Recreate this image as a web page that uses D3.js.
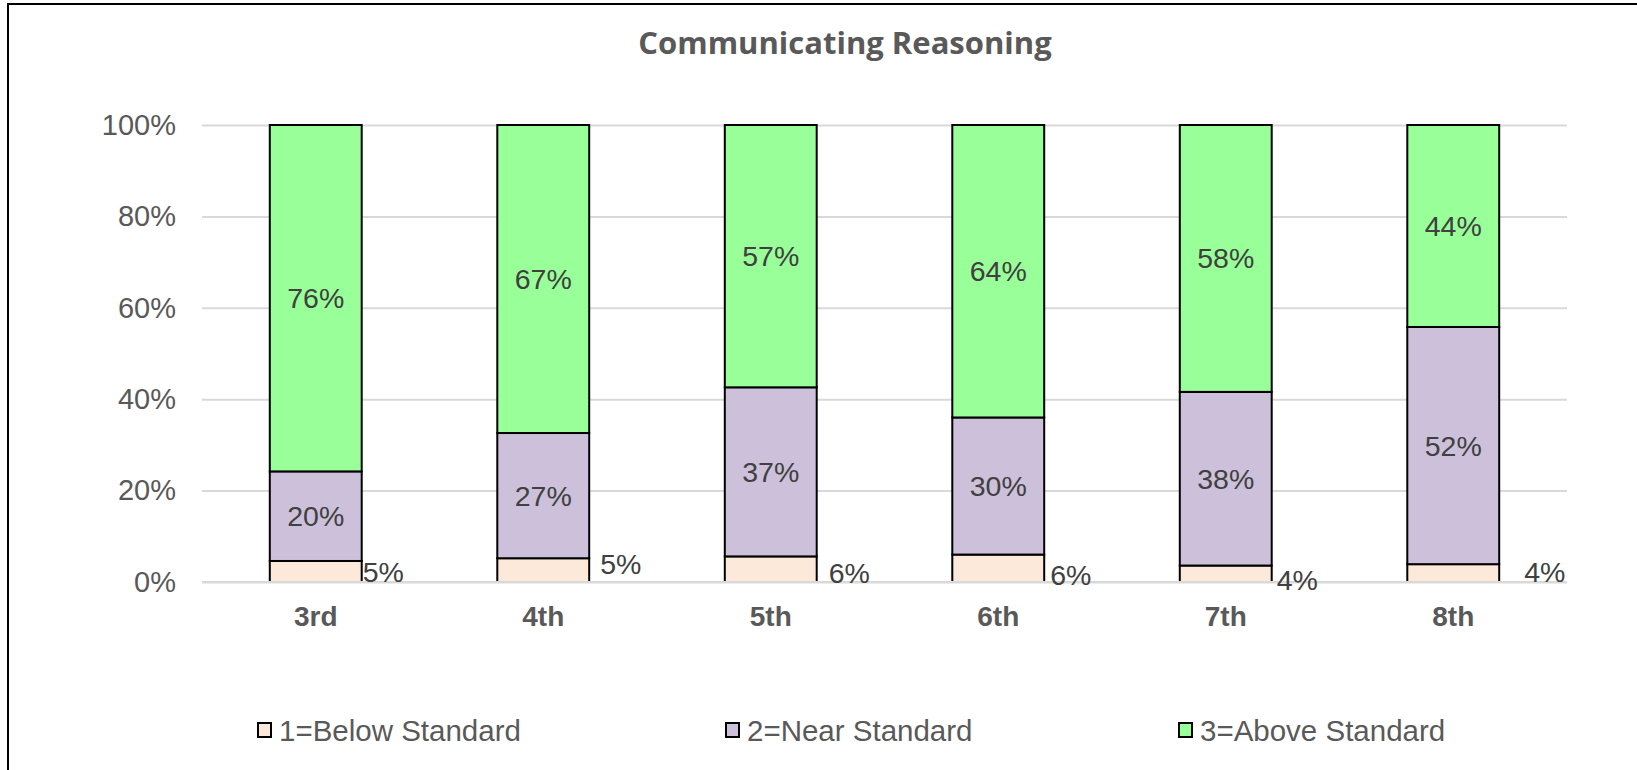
<!DOCTYPE html>
<html>
<head>
<meta charset="utf-8">
<script src="https://cdn.jsdelivr.net/npm/d3@7"></script>
<style>
  html, body { margin: 0; padding: 0; background: #fff; overflow: hidden; }
  svg { display: block; overflow: hidden; }
</style>
</head>
<body>
<div id="chart"></div>
<script>
// grade levels on the x axis
const grades = ['3rd', '4th', '5th', '6th', '7th', '8th'];
// percent of students in each band
const belowStandard = [4.6, 5.2, 5.6, 6.0, 3.6, 3.9];
const nearStandard = [19.6, 27.4, 37.0, 30.0, 38.0, 51.9];
const aboveStandard = [75.8, 67.4, 57.4, 64.0, 58.4, 44.2];
const seriesNames = ['1=Below Standard', '2=Near Standard', '3=Above Standard'];
const yTicks = [0, 20, 40, 60, 80, 100];

// hand-placed nudges of the small "below" labels (px)
const belowLabelDx = [0, 10, 11, 5, 4, 24];
const belowLabelDy = [0, -8, 1, 3, 8, 0];
const legendX = [257, 725, 1178];

const colors = ['#fde9d9', '#ccc0da', '#99ff99'];
const width = 1637;
const height = 770;
const margin = { top: 125, right: 70, bottom: 188, left: 202 };
const font = '"Liberation Sans", Arial, sans-serif';

const draw = (div) => {
  const svg = d3.select(div)
    .append('svg')
    .attr('width', width)
    .attr('height', height);

  // chart frame: only the left and top edges fall inside the picture
  svg.append('path')
    .attr('d', `M8,${height}V4H${width}`)
    .attr('fill', 'none')
    .attr('stroke', '#000')
    .attr('stroke-width', 2);

  svg.append('text')
    .attr('x', 845)
    .attr('y', 54)
    .attr('text-anchor', 'middle')
    .style('font-family', '"Open Sans", sans-serif')
    .style('font-weight', 700)
    .style('font-size', '31px')
    .style('fill', '#595959')
    .text('Communicating Reasoning');

  const x = d3.scaleBand()
    .domain(grades)
    .range([margin.left, width - margin.right])
    .paddingInner(0.596)
    .paddingOuter(0.298);

  const y = d3.scaleLinear()
    .domain([0, 100])
    .range([height - margin.bottom, margin.top]);

  const rows = grades.map((g, i) => ({
    grade: g,
    below: belowStandard[i],
    near: nearStandard[i],
    above: aboveStandard[i],
  }));
  const keys = ['below', 'near', 'above'];
  const layers = d3.stack().keys(keys)(rows);

  // gridlines + y labels
  const yAxis = d3.axisLeft(y)
    .tickValues(yTicks)
    .tickSize(-(width - margin.right - margin.left))
    .tickPadding(26)
    .tickFormat(d => `${d}%`);

  const gy = svg.append('g')
    .attr('transform', `translate(${margin.left},0)`)
    .call(yAxis);
  gy.select('.domain').remove();
  gy.selectAll('.tick line')
    .attr('stroke', '#d9d9d9')
    .attr('stroke-width', 2);
  gy.selectAll('.tick text')
    .style('font-family', font)
    .style('font-size', '29px')
    .style('fill', '#595959');

  const gLayer = svg.selectAll('.layer')
    .data(layers)
    .enter().append('g')
    .attr('class', 'layer')
    .attr('fill', (d, i) => colors[i]);

  gLayer.selectAll('rect')
    .data(d => d)
    .enter().append('rect')
    .attr('x', d => x(d.data.grade))
    .attr('y', d => y(d[1]))
    .attr('width', x.bandwidth())
    .attr('height', d => y(d[0]) - y(d[1]))
    .attr('stroke', '#000')
    .attr('stroke-width', 2);

  // zero line drawn over the bar bottoms
  svg.append('line')
    .attr('x1', margin.left)
    .attr('x2', width - margin.right)
    .attr('y1', y(0))
    .attr('y2', y(0))
    .attr('stroke', '#d9d9d9')
    .attr('stroke-width', 2);

  const labelFont = (sel) => sel
    .style('font-family', font)
    .style('font-size', '28.5px')
    .style('fill', '#404040');

  // middle and top labels, centred in segment
  layers.slice(1).forEach((layer) => {
    svg.append('g').selectAll('text')
      .data(layer)
      .enter().append('text')
      .attr('x', d => x(d.data.grade) + x.bandwidth() / 2)
      .attr('y', d => (y(d[0]) + y(d[1])) / 2)
      .attr('dy', '0.35em')
      .attr('text-anchor', 'middle')
      .call(labelFont)
      .text(d => `${Math.round(d[1] - d[0])}%`);
  });

  // below-standard labels sit right of the bar
  svg.append('g').selectAll('text')
    .data(layers[0])
    .enter().append('text')
    .attr('x', (d, i) => x(d.data.grade) + x.bandwidth() + 1 + belowLabelDx[i])
    .attr('y', (d, i) => y(0) + belowLabelDy[i])
    .call(labelFont)
    .text(d => `${Math.round(d[1] - d[0])}%`);

  // category labels
  const xAxis = d3.axisBottom(x).tickSize(0).tickPadding(24);
  const gx = svg.append('g')
    .attr('transform', `translate(0,${y(0)})`)
    .call(xAxis);
  gx.select('.domain').remove();
  gx.selectAll('.tick text')
    .style('font-family', font)
    .style('font-size', '28px')
    .style('font-weight', 700)
    .style('fill', '#595959');

  // legend
  const legend = svg.append('g').attr('transform', 'translate(0,741)');
  seriesNames.forEach((name, i) => {
    const item = legend.append('g').attr('transform', `translate(${legendX[i]},0)`);
    item.append('rect')
      .attr('x', 1)
      .attr('y', -18)
      .attr('width', 13)
      .attr('height', 14)
      .attr('fill', colors[i])
      .attr('stroke', '#000')
      .attr('stroke-width', 2);
    item.append('text')
      .attr('x', 22)
      .attr('y', 0)
      .style('font-family', font)
      .style('font-size', '29.5px')
      .style('fill', '#595959')
      .text(name);
  });
};

draw(document.getElementById('chart'));
</script>
</body>
</html>
